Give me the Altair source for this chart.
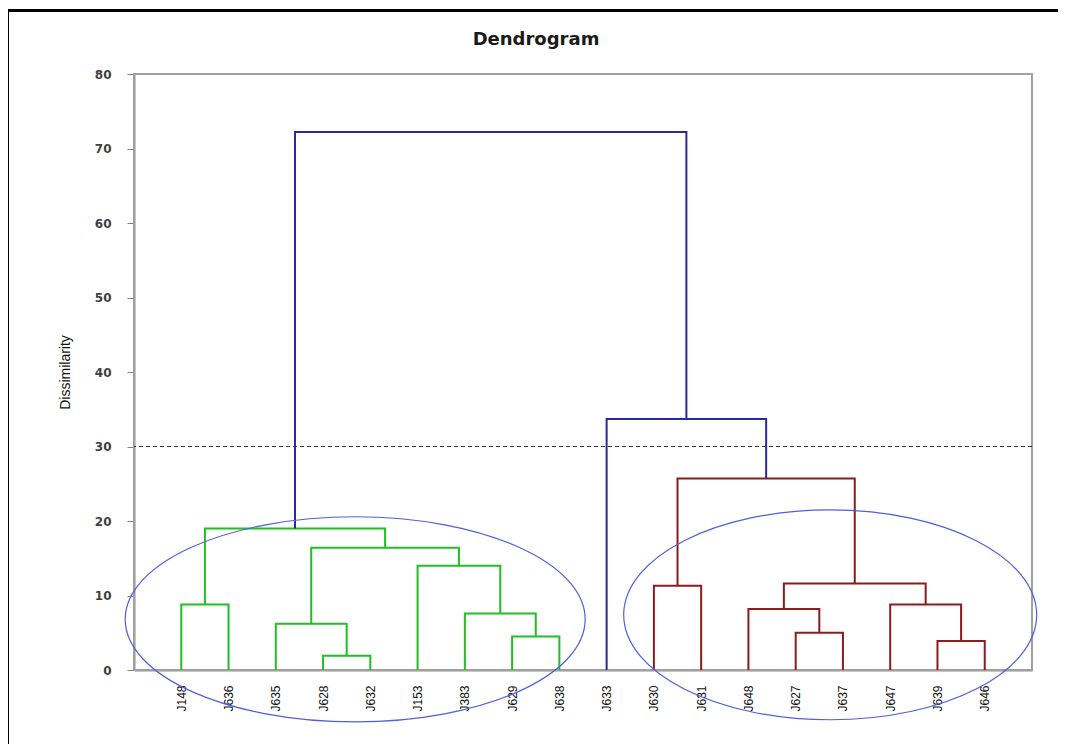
import altair as alt
import pandas as pd

# ---- data ----
chart_title = ["Dendrogram"]

leaves = ["J148", "J636", "J635", "J628", "J632", "J153", "J383", "J629", "J638",
          "J633", "J630", "J631", "J648", "J627", "J637", "J647", "J639", "J646"]

merge_left = ["J148", "J628", "J635", "J629", "J383", "J153", "m2", "m0",
              "J630", "J627", "J648", "J639", "J647", "m10", "m8", "J633", "m7"]
merge_right = ["J636", "J632", "m1", "J638", "m3", "m4", "m5", "m6",
               "J631", "J637", "m9", "J646", "m11", "m12", "m13", "m14", "m15"]
merge_height = [8.8, 1.9, 6.2, 4.5, 7.6, 14.0, 16.4, 19.0,
                11.3, 5.0, 8.2, 3.9, 8.8, 11.6, 25.7, 33.7, 72.2]
merge_group = ["Cluster 1"] * 8 + ["Cluster 2"] * 7 + ["Link"] * 2

cut_level = [30]

# ellipse annotations (centre in data units)
ell_left_x, ell_left_y = [4.68], [6.8]
ell_right_x, ell_right_y = [14.73], [7.4]

# ---- build tree geometry ----
pos = {name: (i + 1, 0.0) for i, name in enumerate(leaves)}
rows = []
for i, (l, r, h, g) in enumerate(zip(merge_left, merge_right, merge_height, merge_group)):
    xl, hl = pos[l]
    xr, hr = pos[r]
    pts = [(xl, hl), (xl, h), (xr, h), (xr, hr)]
    for k, (px, py) in enumerate(pts):
        rows.append({"merge": f"m{i}", "step": k, "x": px, "y": py, "group": g})
    pos[f"m{i}"] = ((xl + xr) / 2, h)
df = pd.DataFrame(rows)

label_array = "[" + ",".join(f"'{s}'" for s in leaves) + "]"

x_axis = alt.Axis(
    title=None, values=list(range(1, len(leaves) + 1)),
    labelExpr=f"{label_array}[datum.value - 1]",
    labelAngle=270, labelFont="Liberation Sans", labelFontSize=12,
    labelColor="#111111", labelPadding=15, ticks=False, tickSize=0,
    grid=False, domainColor="#909090", domainWidth=2,
    labelFlush=False, labelOverlap=False,
)
y_axis = alt.Axis(
    title="Dissimilarity", values=list(range(0, 81, 10)),
    titleFont="Liberation Sans", titleFontSize=14, titleFontWeight="normal",
    titleColor="#111111", titlePadding=22,
    labelFont="DejaVu Sans", labelFontSize=12, labelFontWeight="bold",
    labelColor="#404040", labelPadding=16, tickSize=7, tickColor="#808080",
    grid=False, domainColor="#909090", domainWidth=2,
)
x_scale = alt.Scale(domain=[0, len(leaves) + 1], nice=False, zero=False)
y_scale = alt.Scale(domain=[0, 80], nice=False)

tree = alt.Chart(df).mark_line(strokeWidth=2).encode(
    x=alt.X("x:Q", scale=x_scale, axis=x_axis),
    y=alt.Y("y:Q", scale=y_scale, axis=y_axis),
    color=alt.Color("group:N", legend=None,
                    scale=alt.Scale(domain=["Cluster 1", "Cluster 2", "Link"],
                                    range=["#22bf22", "#8c1c1c", "#2a2a9c"])),
    detail="merge:N",
    order="step:Q",
)

cut = alt.Chart(pd.DataFrame({"y": cut_level})).mark_rule(
    color="#333333", strokeWidth=1, strokeDash=[4, 3]
).encode(y=alt.Y("y:Q", scale=y_scale, axis=y_axis))


def ellipse_path(r):
    k = 0.5523
    a = round(k * r, 4)
    return (f"M -1 0 C -1 {-a} {-k} {-r} 0 {-r} C {k} {-r} 1 {-a} 1 0 "
            f"C 1 {a} {k} {r} 0 {r} C {-k} {r} -1 {a} -1 0 Z")


ell_left = alt.Chart(pd.DataFrame({"x": ell_left_x, "y": ell_left_y})).mark_point(
    shape=ellipse_path(0.446), filled=False, stroke="#4d5fe0", strokeWidth=1.2,
    opacity=1, size=460 ** 2
).encode(x=alt.X("x:Q", scale=x_scale, axis=x_axis),
         y=alt.Y("y:Q", scale=y_scale, axis=y_axis))

ell_right = alt.Chart(pd.DataFrame({"x": ell_right_x, "y": ell_right_y})).mark_point(
    shape=ellipse_path(0.508), filled=False, stroke="#4d5fe0", strokeWidth=1.2,
    opacity=1, size=413 ** 2
).encode(x=alt.X("x:Q", scale=x_scale, axis=x_axis),
         y=alt.Y("y:Q", scale=y_scale, axis=y_axis))

frame = alt.Chart(alt.Data(values=[{}])).mark_rect(
    fill="transparent", stroke="#000000", strokeWidth=3
).encode(x=alt.value(-126.5), x2=alt.value(960),
         y=alt.value(-63.5), y2=alt.value(720))

plot_border = alt.Chart(alt.Data(values=[{}])).mark_rect(
    fill="transparent", stroke="#a0a0a0", strokeWidth=2
).encode(x=alt.value(0), x2=alt.value(898), y=alt.value(0), y2=alt.value(596))

title = alt.Chart(pd.DataFrame({"t": chart_title})).mark_text(
    font="DejaVu Sans", fontSize=18, fontWeight="bold", color="#1a1a1a",
    align="center", baseline="middle"
).encode(text="t:N", x=alt.value(402), y=alt.value(-34))

chart = alt.layer(frame, plot_border, cut, tree, ell_left, ell_right, title).properties(
    width=898, height=596,
    autosize=alt.AutoSizeParams(type="none"),
    padding={"left": 126, "top": 66, "right": 26, "bottom": 80},
).configure_view(stroke="#a0a0a0", strokeWidth=2).configure(background="white")

chart.save("out.html", embed_options={"renderer": "svg", "actions": False})
